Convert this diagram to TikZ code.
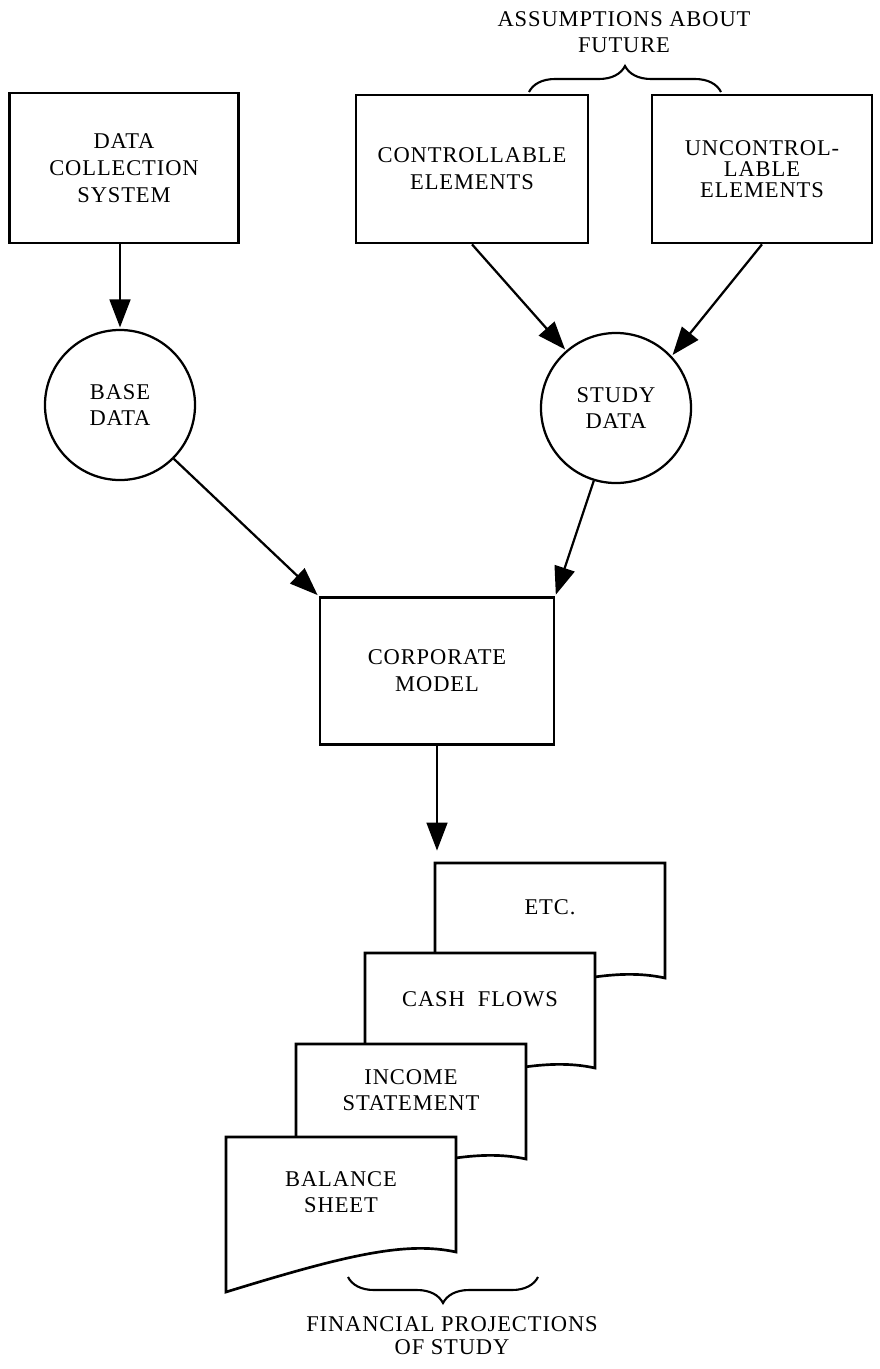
\documentclass[tikz,border=0pt]{standalone}
\usepackage{fontspec}
\setmainfont{Liberation Serif}[LetterSpace=4]
\usetikzlibrary{arrows.meta,decorations.pathreplacing}

\tikzset{
	box/.style={shape=rectangle, draw=black, line width=1.9pt, align=center, inner sep=0pt},
	disc/.style={shape=circle, draw=black, line width=1.6pt, minimum size=3.75cm, align=center, inner sep=0pt},
	flow/.style={line width=1.6pt, shorten >=1pt, -{Triangle[length=0.7cm,width=0.52cm]}},
	sheet/.style={draw=black, fill=white, line width=1.9pt},
	curly/.style={line width=1.5pt, decorate, decoration={brace, amplitude=0.65cm}},
	page/.pic={\draw[sheet] (0,0) -- (230,0) -- (230,115) .. controls (180,104) and (120,118) .. (0,155) -- cycle;},
}

\begin{document}
\begin{tikzpicture}[x=0.025cm, y=-0.025cm, font=\fontsize{16}{19}\selectfont]
	\useasboundingbox (0,0) rectangle (880,1369);

	\node[box, minimum width=5.72cm, minimum height=3.75cm] (dcs)    at (124,168) {DATA\\COLLECTION\\SYSTEM};
	\node[box, minimum width=5.8cm,  minimum height=3.7cm]  (ctrl)   at (472,169) {CONTROLLABLE\\ELEMENTS};
	\node[box, minimum width=5.5cm,  minimum height=3.7cm, font=\fontsize{16}{15}\selectfont] (unctrl) at (762,169) {UNCONTROL-\\LABLE\\ELEMENTS};
	\node[disc]                                             (base)   at (120,405) {BASE\\DATA};
	\node[disc]                                             (study)  at (616,408) {STUDY\\DATA};
	\node[box, minimum width=5.85cm, minimum height=3.68cm] (corp)   at (437,671) {CORPORATE\\MODEL};
	\coordinate (pagein) at (437,852);

	\draw[flow] (base.north |- dcs.south) -- (base.north);
	\draw[flow] (ctrl.south)   -- (study.131);
	\draw[flow] (unctrl.south) -- (study.43);
	\draw[flow] (base.-45)     -- (corp.north west);
	\draw[flow] (study.-107)   -- (corp.north east);
	\draw[flow] (corp)         -- (pagein);

	% stacked output sheets, back to front
	\pic at (435,863) {page};
	\node (etc)     at (550,907)  {ETC.};
	\pic at (365,953) {page};
	\node (cash)    at (480,999)  {CASH\ \ FLOWS};
	\pic at (296,1044) {page};
	\node[align=center, font=\fontsize{16}{18.5}\selectfont] (income)  at (411,1090) {INCOME\\STATEMENT};
	\pic at (226,1137) {page};
	\node[align=center, font=\fontsize{16}{18.5}\selectfont] (balance) at (341,1192) {BALANCE\\SHEET};

	% braces
	\coordinate (futl) at (529,92);
	\coordinate (futr) at (721,92);
	\draw[curly] (futl) -- (futr);
	\node[align=center, font=\fontsize{16}{18.5}\selectfont] (future) at (624,32) {ASSUMPTIONS ABOUT\\FUTURE};

	\coordinate (finl) at (348,1277);
	\coordinate (finr) at (538,1277);
	\draw[curly] (finr) -- (finl);
	\node[align=center, font=\fontsize{16}{16.5}\selectfont] (projections) at (452,1336) {FINANCIAL PROJECTIONS\\OF STUDY};
\end{tikzpicture}
\end{document}
